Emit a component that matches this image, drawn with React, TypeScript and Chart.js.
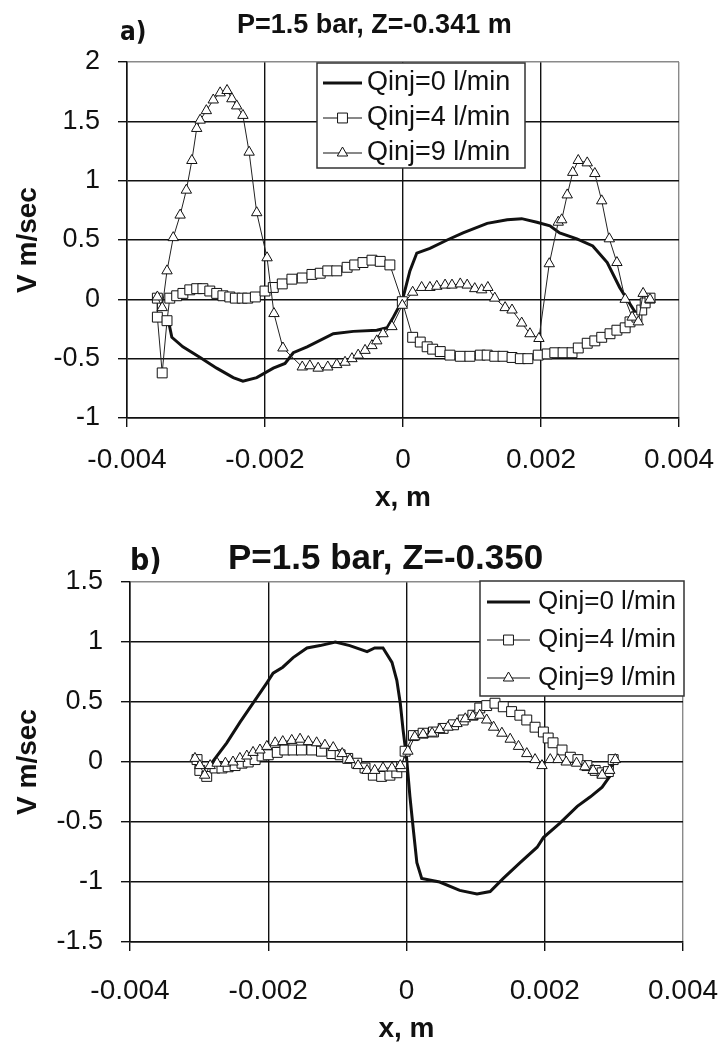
import React, { useEffect, useRef } from 'react';
import { Chart, registerables } from 'chart.js';

Chart.register(...registerables);

type P = [number, number];

const xTicks = [-0.004, -0.002, 0, 0.002, 0.004];
const yTicksA = [-1, -0.5, 0, 0.5, 1, 1.5, 2];
const yTicksB = [-1.5, -1, -0.5, 0, 0.5, 1, 1.5];
const seriesLabels = ['Qinj=0 l/min', 'Qinj=4 l/min', 'Qinj=9 l/min'];
const titleA = 'P=1.5 bar, Z=-0.341 m';
const titleB = 'P=1.5 bar, Z=-0.350';
const xTitle = 'x, m';
const yTitle = 'V m/sec';

// Panel a) Z = -0.341 m
const aQ0: P[] = [[-0.0034,-0.18],[-0.00335,-0.32],[-0.00319,-0.4],[-0.00294,-0.49],[-0.0027,-0.58],[-0.00246,-0.66],[-0.00232,-0.69],[-0.00212,-0.66],[-0.00188,-0.58],[-0.00171,-0.54],[-0.00159,-0.45],[-0.00139,-0.4],[-0.00101,-0.29],[-0.00072,-0.27],[-0.00038,-0.26],[-0.00023,-0.24],[-0.00014,-0.15],[-0.00001,-0.01],[0.0001,0.24],[0.0002,0.39],[0.00039,0.43],[0.00064,0.5],[0.00087,0.56],[0.00122,0.64],[0.00151,0.67],[0.00172,0.68],[0.00194,0.65],[0.00213,0.62],[0.00227,0.56],[0.00252,0.51],[0.00275,0.45],[0.00296,0.31],[0.00314,0.1],[0.00329,-0.04],[0.00341,-0.15],[0.00345,-0.18]];
const aQ4: P[] = [[-0.00356,0.01],[-0.00356,-0.15],[-0.00349,-0.62],[-0.00342,-0.18],[-0.00338,0.01],[-0.00328,0.03],[-0.00319,0.05],[-0.00309,0.08],[-0.00299,0.09],[-0.0029,0.09],[-0.0028,0.07],[-0.0027,0.05],[-0.00261,0.03],[-0.00251,0.02],[-0.00243,0.01],[-0.00233,0.01],[-0.00225,0.01],[-0.00214,0.02],[-0.002,0.07],[-0.00188,0.1],[-0.00175,0.13],[-0.00161,0.17],[-0.00146,0.18],[-0.00132,0.21],[-0.0012,0.22],[-0.00109,0.24],[-0.00096,0.24],[-0.00081,0.27],[-0.0007,0.29],[-0.00058,0.31],[-0.00045,0.33],[-0.00033,0.32],[-0.00019,0.29],[-0.00001,-0.02],[0.00014,-0.32],[0.00025,-0.36],[0.00035,-0.4],[0.00043,-0.42],[0.00054,-0.44],[0.00068,-0.47],[0.00083,-0.48],[0.00097,-0.48],[0.00112,-0.47],[0.00122,-0.47],[0.00133,-0.48],[0.00145,-0.48],[0.00158,-0.49],[0.0017,-0.5],[0.00181,-0.5],[0.00196,-0.47],[0.00209,-0.46],[0.0022,-0.45],[0.00232,-0.45],[0.00245,-0.45],[0.00254,-0.41],[0.00267,-0.37],[0.00278,-0.35],[0.00288,-0.32],[0.003,-0.29],[0.0031,-0.26],[0.00322,-0.24],[0.00329,-0.19],[0.00339,-0.15],[0.00346,-0.09],[0.00351,-0.03],[0.00358,0.01]];
const aQ9: P[] = [[-0.00356,0.02],[-0.00349,-0.07],[-0.00342,0.24],[-0.00333,0.52],[-0.00323,0.71],[-0.00314,0.92],[-0.00306,1.17],[-0.00299,1.44],[-0.00294,1.51],[-0.00285,1.59],[-0.00275,1.68],[-0.00265,1.74],[-0.00255,1.76],[-0.00248,1.69],[-0.00241,1.63],[-0.00232,1.55],[-0.00223,1.24],[-0.00212,0.73],[-0.00197,0.35],[-0.00187,-0.12],[-0.00174,-0.41],[-0.00146,-0.57],[-0.00135,-0.56],[-0.00123,-0.58],[-0.00109,-0.57],[-0.00096,-0.55],[-0.00084,-0.53],[-0.00074,-0.5],[-0.00065,-0.47],[-0.00055,-0.43],[-0.00045,-0.39],[-0.00038,-0.35],[-0.00029,-0.29],[-0.00016,-0.23],[-0.00001,-0.05],[0.00014,0.06],[0.00027,0.1],[0.00039,0.1],[0.00049,0.11],[0.00061,0.12],[0.00071,0.12],[0.00083,0.13],[0.00093,0.12],[0.00104,0.09],[0.00114,0.08],[0.00123,0.1],[0.00133,0.01],[0.00148,-0.07],[0.00158,-0.09],[0.00172,-0.2],[0.00184,-0.29],[0.00197,-0.33],[0.00212,0.3],[0.00225,0.65],[0.0023,0.67],[0.00238,0.88],[0.00246,1.07],[0.00254,1.17],[0.00267,1.15],[0.00278,1.06],[0.00288,0.83],[0.00299,0.51],[0.0031,0.31],[0.00322,0.0],[0.00332,-0.15],[0.00341,-0.19],[0.00348,0.05],[0.00358,0.0]];

// Panel b) Z = -0.350
const bQ0: P[] = [[-0.00282,-0.01],[-0.0026,0.16],[-0.00241,0.33],[-0.00222,0.49],[-0.00202,0.66],[-0.00193,0.74],[-0.00179,0.79],[-0.00164,0.87],[-0.00144,0.95],[-0.00125,0.97],[-0.00103,1.0],[-0.00082,0.97],[-0.00057,0.92],[-0.00046,0.95],[-0.00034,0.95],[-0.00021,0.83],[-0.00014,0.68],[-0.00009,0.49],[-0.00005,0.27],[0.0,0.04],[0.00005,-0.29],[0.0001,-0.57],[0.00015,-0.84],[0.00022,-0.97],[0.00048,-1.0],[0.00077,-1.07],[0.00102,-1.1],[0.00121,-1.08],[0.0014,-0.97],[0.00164,-0.84],[0.00189,-0.71],[0.00198,-0.63],[0.00222,-0.51],[0.00247,-0.37],[0.00266,-0.29],[0.00283,-0.21],[0.00294,-0.12],[0.00299,-0.01]];
const bQ4: P[] = [[-0.00303,0.02],[-0.00299,-0.07],[-0.00289,-0.12],[-0.00277,-0.05],[-0.00267,-0.05],[-0.00258,-0.04],[-0.00248,-0.03],[-0.00238,-0.01],[-0.00229,0.0],[-0.00219,0.02],[-0.00209,0.05],[-0.002,0.06],[-0.00187,0.08],[-0.00176,0.1],[-0.00164,0.1],[-0.00152,0.1],[-0.00137,0.1],[-0.00123,0.09],[-0.00108,0.07],[-0.00096,0.06],[-0.00085,0.03],[-0.00072,-0.01],[-0.0006,-0.05],[-0.00048,-0.11],[-0.00036,-0.12],[-0.00024,-0.11],[-0.00014,-0.09],[-0.00007,-0.04],[-0.00002,0.09],[0.0001,0.22],[0.00024,0.24],[0.00039,0.25],[0.00053,0.28],[0.00068,0.31],[0.00082,0.35],[0.00096,0.39],[0.00106,0.45],[0.00116,0.47],[0.00128,0.49],[0.0014,0.46],[0.00152,0.42],[0.00164,0.39],[0.00174,0.35],[0.00186,0.29],[0.00198,0.25],[0.00205,0.2],[0.00212,0.16],[0.00225,0.1],[0.00237,0.04],[0.00248,0.02],[0.00261,-0.03],[0.00273,-0.07],[0.00283,-0.09],[0.00292,-0.08],[0.00299,0.02]];
const bQ9: P[] = [[-0.00306,0.03],[-0.00299,-0.03],[-0.00292,-0.11],[-0.00284,-0.03],[-0.00274,-0.01],[-0.00262,-0.01],[-0.00251,0.0],[-0.00241,0.03],[-0.00231,0.05],[-0.00222,0.08],[-0.00212,0.1],[-0.00202,0.13],[-0.0019,0.16],[-0.00179,0.17],[-0.00166,0.18],[-0.00154,0.19],[-0.00142,0.17],[-0.0013,0.16],[-0.00118,0.14],[-0.00106,0.12],[-0.00093,0.07],[-0.00082,0.02],[-0.0007,-0.03],[-0.00057,-0.07],[-0.00046,-0.07],[-0.00034,-0.05],[-0.00021,-0.05],[-0.00009,-0.03],[0.00002,0.09],[0.00012,0.21],[0.00024,0.23],[0.00037,0.24],[0.00048,0.27],[0.0006,0.29],[0.00073,0.32],[0.00085,0.36],[0.00096,0.38],[0.00106,0.39],[0.00116,0.35],[0.00126,0.29],[0.00138,0.24],[0.0015,0.19],[0.00162,0.13],[0.00174,0.07],[0.00186,0.02],[0.00196,-0.03],[0.00208,0.02],[0.00219,0.02],[0.00231,0.0],[0.00246,-0.01],[0.00258,-0.04],[0.0027,-0.07],[0.00283,-0.11],[0.00294,-0.07],[0.00302,0.02]];

const FONT = '"Liberation Sans", Arial, "DejaVu Sans", sans-serif';
const NARROW = '"Liberation Sans Narrow", "DejaVu Sans Condensed", "Liberation Sans", sans-serif';
const INK = '#111';

interface Spec {
  q0: P[]; q4: P[]; q9: P[];
  yTicks: number[];
  width: number; height: number;
  padTop: number; padRight: number; yW: number; xH: number;
  xTickPad: number; xTitlePad: number; yTitlePad: number;
  tag: string; tagX: number; tagY: number; tagFont: string;
  title: string; titleX: number; titleY: number; titleFont: string;
  legend: { x: number; y: number; w: number; h: number; rows: number[]; sx1: number; sx2: number; tx: number; font: string };
}

function drawMarker(ctx: CanvasRenderingContext2D, style: string, x: number, y: number, r: number) {
  ctx.beginPath();
  if (style === 'rect') {
    const s = Math.SQRT1_2 * r;
    ctx.rect(x - s, y - s, 2 * s, 2 * s);
  } else {
    let rad = 0;
    ctx.moveTo(x + Math.sin(rad) * r, y - Math.cos(rad) * r);
    rad += (2 * Math.PI) / 3;
    ctx.lineTo(x + Math.sin(rad) * r, y - Math.cos(rad) * r);
    rad += (2 * Math.PI) / 3;
    ctx.lineTo(x + Math.sin(rad) * r, y - Math.cos(rad) * r);
    ctx.closePath();
  }
  ctx.fillStyle = '#fff';
  ctx.fill();
  ctx.lineWidth = 1;
  ctx.strokeStyle = INK;
  ctx.stroke();
}

function makeDecor(spec: Spec) {
  return {
    id: 'decor',
    afterDraw(chart: any) {
      const ctx: CanvasRenderingContext2D = chart.ctx;
      ctx.save();
      ctx.fillStyle = INK;
      ctx.textAlign = 'left';
      ctx.textBaseline = 'alphabetic';
      ctx.font = spec.tagFont;
      ctx.fillText(spec.tag, spec.tagX, spec.tagY);
      ctx.font = spec.titleFont;
      ctx.fillText(spec.title, spec.titleX, spec.titleY);

      const L = spec.legend;
      ctx.fillStyle = '#fff';
      ctx.fillRect(L.x, L.y, L.w, L.h);
      ctx.strokeStyle = '#333';
      ctx.lineWidth = 1.5;
      ctx.strokeRect(L.x, L.y, L.w, L.h);
      L.rows.forEach((ry, i) => {
        const ds = chart.data.datasets[i];
        ctx.strokeStyle = INK;
        ctx.lineWidth = ds.borderWidth;
        ctx.beginPath();
        ctx.moveTo(L.sx1, ry);
        ctx.lineTo(L.sx2, ry);
        ctx.stroke();
        if (ds.pointRadius > 0) {
          drawMarker(ctx, ds.pointStyle, (L.sx1 + L.sx2) / 2, ry, ds.pointRadius);
        }
        ctx.fillStyle = INK;
        ctx.font = L.font;
        ctx.textBaseline = 'middle';
        ctx.fillText(ds.label, L.tx, ry);
      });
      ctx.restore();
    },
  };
}

const pts = (arr: P[]) => arr.map(([x, y]) => ({ x, y }));

function buildConfig(spec: Spec): any {
  const yMin = spec.yTicks[0];
  const yMax = spec.yTicks[spec.yTicks.length - 1];
  const xMax = xTicks[xTicks.length - 1];
  return {
    type: 'scatter',
    data: {
      datasets: [
        { label: seriesLabels[0], data: pts(spec.q0), showLine: true, borderColor: INK, borderWidth: 3, pointRadius: 0, pointHoverRadius: 0, tension: 0, order: 3 },
        { label: seriesLabels[1], data: pts(spec.q4), showLine: true, borderColor: '#222', borderWidth: 1, pointStyle: 'rect', pointRadius: 7, pointBackgroundColor: '#fff', pointBorderColor: INK, pointBorderWidth: 1, tension: 0, order: 2 },
        { label: seriesLabels[2], data: pts(spec.q9), showLine: true, borderColor: '#222', borderWidth: 1, pointStyle: 'triangle', pointRadius: 6, pointBackgroundColor: '#fff', pointBorderColor: INK, pointBorderWidth: 1, tension: 0, order: 1 },
      ],
    },
    options: {
      responsive: false,
      animation: false,
      devicePixelRatio: 1,
      events: [],
      layout: { padding: { left: 0, right: spec.padRight, top: spec.padTop, bottom: 0 } },
      plugins: { legend: { display: false }, tooltip: { enabled: false }, title: { display: false } },
      scales: {
        x: {
          type: 'linear',
          min: xTicks[0],
          max: xMax,
          afterBuildTicks: (s: any) => { s.ticks = xTicks.map((v) => ({ value: v })); },
          afterFit: (s: any) => { s.height = spec.xH; s.paddingLeft = 0; s.paddingRight = 0; },
          ticks: {
            font: { family: FONT, size: 28 },
            color: INK,
            padding: spec.xTickPad,
            maxRotation: 0,
            autoSkip: false,
            callback: (v: number) => (Math.abs(v) < 1e-12 ? '0' : v.toFixed(3)),
          },
          grid: {
            color: (c: any) => (c.tick && Math.abs(c.tick.value - xMax) < 1e-9 ? '#8a8a8a' : INK),
            lineWidth: 1.4,
            tickLength: 9,
            tickColor: INK,
            tickWidth: 1.4,
          },
          border: { color: INK, width: 1.5 },
          title: {
            display: true,
            text: xTitle,
            color: INK,
            font: { family: FONT, size: 28, weight: 'bold', lineHeight: 1 },
            padding: { top: 0, bottom: spec.xTitlePad },
          },
        },
        y: {
          type: 'linear',
          min: yMin,
          max: yMax,
          afterBuildTicks: (s: any) => { s.ticks = spec.yTicks.map((v) => ({ value: v })); },
          afterFit: (s: any) => { s.width = spec.yW; s.paddingTop = 0; s.paddingBottom = 0; },
          ticks: {
            font: { family: FONT, size: 27 },
            color: INK,
            padding: 18,
            autoSkip: false,
            callback: (v: number) => String(v),
          },
          grid: {
            color: (c: any) => (c.tick && Math.abs(c.tick.value - yMax) < 1e-9 ? '#8a8a8a' : INK),
            lineWidth: 1.4,
            tickLength: 9,
            tickColor: INK,
            tickWidth: 1.4,
          },
          border: { color: INK, width: 1.5 },
          title: {
            display: true,
            text: yTitle,
            color: INK,
            font: { family: FONT, size: 28, weight: 'bold', lineHeight: 1 },
            padding: { top: spec.yTitlePad, bottom: 0 },
          },
        },
      },
    },
    plugins: [makeDecor(spec)],
  };
}

const specA: Spec = {
  q0: aQ0, q4: aQ4, q9: aQ9, yTicks: yTicksA,
  width: 725, height: 520,
  padTop: 62, padRight: 46, yW: 127, xH: 102,
  xTickPad: 16, xTitlePad: 8, yTitlePad: 14,
  tag: 'a)', tagX: 120, tagY: 40, tagFont: `bold 26px ${NARROW}`,
  title: titleA, titleX: 237, titleY: 33, titleFont: `bold 27px ${FONT}`,
  legend: { x: 317, y: 63, w: 208, h: 105, rows: [83, 118, 153], sx1: 323, sx2: 362, tx: 367, font: `27px ${FONT}` },
};

const specB: Spec = {
  q0: bQ0, q4: bQ4, q9: bQ9, yTicks: yTicksB,
  width: 725, height: 523,
  padTop: 62, padRight: 42, yW: 130, xH: 101,
  xTickPad: 23, xTitlePad: 0, yTitlePad: 14,
  tag: 'b)', tagX: 130, tagY: 50, tagFont: `bold 30px ${NARROW}`,
  title: titleB, titleX: 228, titleY: 49, titleFont: `bold 35px ${FONT}`,
  legend: { x: 480, y: 61, w: 204, h: 115, rows: [82, 120, 158], sx1: 487, sx2: 530, tx: 538, font: `26px ${FONT}` },
};

export default function App() {
  const refA = useRef<HTMLCanvasElement | null>(null);
  const refB = useRef<HTMLCanvasElement | null>(null);

  useEffect(() => {
    const charts: Chart[] = [];
    if (refA.current) charts.push(new Chart(refA.current, buildConfig(specA)));
    if (refB.current) charts.push(new Chart(refB.current, buildConfig(specB)));
    return () => charts.forEach((c) => c.destroy());
  }, []);

  return (
    <div style={{ position: 'absolute', left: 0, top: 0, width: 725, height: 1043, background: '#fff', overflow: 'hidden' }}>
      <canvas ref={refA} width={specA.width} height={specA.height} style={{ position: 'absolute', left: 0, top: 0 }} />
      <canvas ref={refB} width={specB.width} height={specB.height} style={{ position: 'absolute', left: 0, top: 520 }} />
    </div>
  );
}
